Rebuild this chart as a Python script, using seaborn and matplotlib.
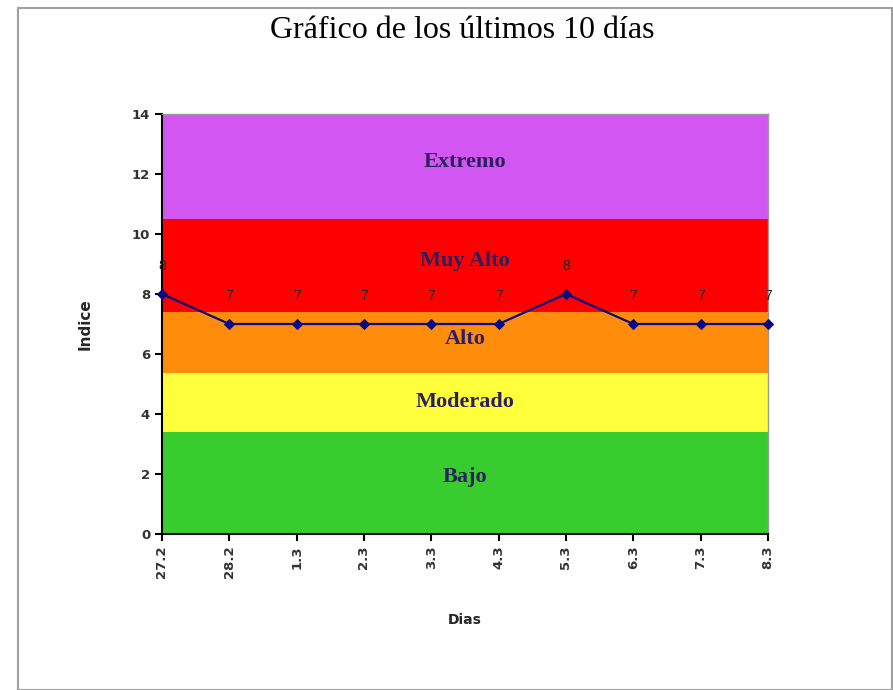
import matplotlib
matplotlib.use("Agg")
import matplotlib.pyplot as plt
import seaborn as sns
import pandas as pd
from matplotlib.patches import Rectangle

# data
dias = ["27.2", "28.2", "1.3", "2.3", "3.3", "4.3", "5.3", "6.3", "7.3", "8.3"]
indice = [8, 7, 7, 7, 7, 7, 8, 7, 7, 7]

# risk bands (lower, upper, colour, label)
band_lo = [0, 3.4, 5.35, 7.4, 10.5]
band_hi = [3.4, 5.35, 7.4, 10.5, 14]
band_colors = ["#38cc2e", "#ffff3c", "#ff8c0a", "#ff0000", "#d257f2"]
band_labels = ["Bajo", "Moderado", "Alto", "Muy Alto", "Extremo"]
label_y = [1.9, 4.4, 6.5, 9.1, 12.4]

sns.set_style("white")

df = pd.DataFrame({"pos": range(len(dias)), "indice": indice})

fig = plt.figure(figsize=(8.93, 6.9), dpi=100)
ax = fig.add_axes([0.1814, 0.2261, 0.6786, 0.6087])

# background bands
for lo, hi, c in zip(band_lo, band_hi, band_colors):
    ax.axhspan(lo, hi, color=c, lw=0, zorder=0)
for y, txt in zip(label_y, band_labels):
    ax.text(4.5, y, txt, ha="center", va="center", fontsize=16,
            fontweight="bold", family="Liberation Serif", color="#2b1f5e", zorder=1)

sns.lineplot(data=df, x="pos", y="indice", ax=ax, color="#0a0a80", lw=1.6,
             marker="D", markersize=5, markeredgecolor="#0a0a80", zorder=3,
             clip_on=False)

for i, v in enumerate(indice):
    ax.text(i, v + 0.7, str(v), ha="center", va="bottom", fontsize=10,
            family="Liberation Sans", color="#222222", zorder=4)

ax.set_xlim(0, len(dias) - 1)
ax.set_ylim(0, 14)
ax.set_yticks(range(0, 15, 2))
ax.set_xticks(range(len(dias)))
ax.set_xticklabels(dias, rotation=90, fontsize=9.5, fontweight="bold", color="#333333")
ax.set_yticklabels([str(t) for t in range(0, 15, 2)], fontsize=9.5, fontweight="bold", color="#333333")
ax.tick_params(axis="both", direction="out", length=5, width=1.5, color="black",
               bottom=True, left=True)
ax.set_xlabel("Dias", fontsize=10, fontweight="bold", labelpad=25)
ax.set_ylabel("Indice", fontsize=11, fontweight="bold", labelpad=28)

for side in ["left", "bottom"]:
    ax.spines[side].set_color("black")
    ax.spines[side].set_linewidth(1.5)
for side in ["top", "right"]:
    ax.spines[side].set_color("#999999")
    ax.spines[side].set_linewidth(1)

fig.text(462 / 893, 1 - 30 / 690, "Gráfico de los últimos 10 días", ha="center",
         va="center", fontsize=23, family="Liberation Serif", color="black")

# outer frame
fig.patches.append(Rectangle((18 / 893, 0), 1 - 18 / 893 - 0.001, 1 - 8 / 690,
                             transform=fig.transFigure, fill=False,
                             edgecolor="#a0a0a0", lw=1.5))

fig.savefig("out.png", dpi=100)
